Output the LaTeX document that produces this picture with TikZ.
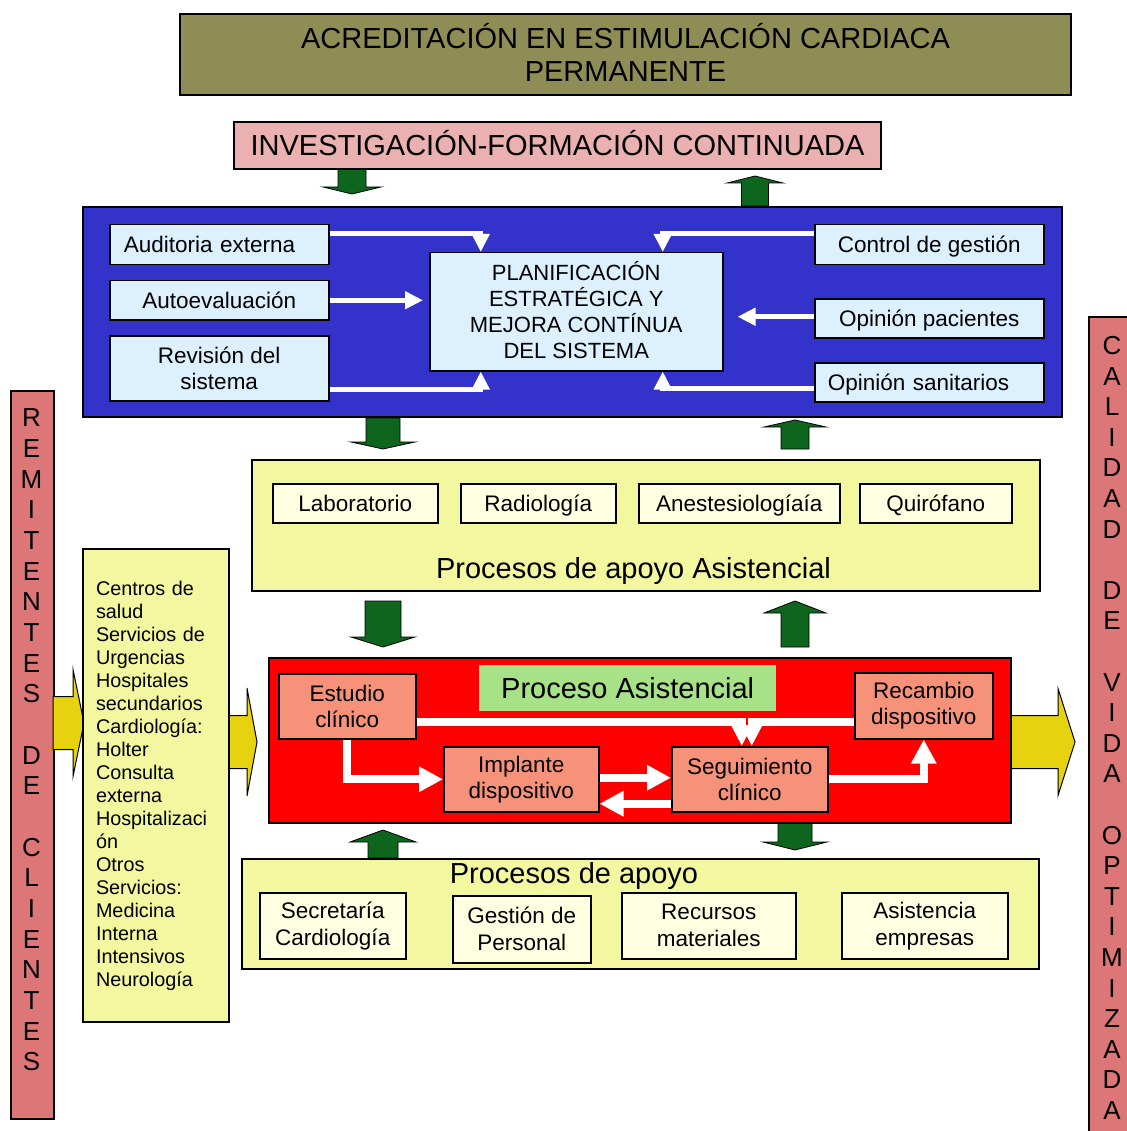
\documentclass[tikz,border=0pt]{standalone}
\usepackage{fontspec}
\setmainfont{Liberation Sans}
\usetikzlibrary{arrows.meta}
\definecolor{olivehead}{RGB}{143,141,86}
\definecolor{invpink}{RGB}{235,176,176}
\definecolor{blueback}{RGB}{51,51,204}
\definecolor{lightblue}{RGB}{220,240,253}
\definecolor{darkgreen}{RGB}{14,102,30}
\definecolor{lightyellow}{RGB}{242,247,160}
\definecolor{cream}{RGB}{255,255,225}
\definecolor{salmon}{RGB}{246,146,122}
\definecolor{labelgreen}{RGB}{168,226,136}
\definecolor{barpink}{RGB}{221,118,118}
\definecolor{mustard}{RGB}{230,210,15}
\newcommand{\fsz}[2]{\fontsize{#1}{#2}\selectfont}
% green block arrows: cx, top, tip, shaft half width, head half width, head length
\newcommand{\gdownarrow}[6]{\filldraw[garrow] (#1-#4,#2) -- (#1+#4,#2) -- (#1+#4,#3-#6) -- (#1+#5,#3-#6) -- (#1,#3) -- (#1-#5,#3-#6) -- (#1-#4,#3-#6) -- cycle;}
% cx, tip, bottom, shaft half width, head half width, head length
\newcommand{\guparrow}[6]{\filldraw[garrow] (#1-#4,#3) -- (#1+#4,#3) -- (#1+#4,#2+#6) -- (#1+#5,#2+#6) -- (#1,#2) -- (#1-#5,#2+#6) -- (#1-#4,#2+#6) -- cycle;}
% mustard arrows: x start, head base x, tip x, cy, shaft half width, head half width
\newcommand{\yrightarrow}[6]{\filldraw[yarrow] (#1,#4-#5) -- (#2,#4-#5) -- (#2,#4-#6) -- (#3,#4) -- (#2,#4+#6) -- (#2,#4+#5) -- (#1,#4+#5) -- cycle;}
\tikzset{
  outerbox/.style={draw=black, line width=2pt, inner sep=0pt, align=center, anchor=north west},
  innerbox/.style={draw=black, line width=1.5pt, inner sep=0pt, align=center, anchor=north west},
  garrow/.style={fill=darkgreen, draw=black, line width=0.8pt},
  yarrow/.style={fill=mustard, draw=black, line width=1pt},
  warrow/.style={draw=white, line width=5pt, -{Triangle[width=17pt,length=18pt]}},
  rarrow/.style={draw=white, line width=8pt, -{Triangle[width=24pt,length=24pt]}},
  rarrowsmall/.style={draw=white, line width=8pt, -{Triangle[width=20pt,length=21pt]}},
  mainfont/.style={font=\fsz{22.5}{26}},
  bigfont/.style={font=\fsz{29}{33}},
  oneline/.style={text height=16.1pt, text depth=0pt},
  bigline/.style={text height=20.8pt, text depth=0pt},
}
\begin{document}
\begin{tikzpicture}[x=1pt,y=-1pt]
\useasboundingbox (0,0) rectangle (1126,1131);
% side bars
\node[outerbox, fill=barpink, minimum width=43pt, minimum height=728pt] (rembar) at (10,390) {};
\node[outerbox, fill=barpink, minimum width=60pt, minimum height=830pt] (calbar) at (1088,316) {};
\node[font=\fsz{26}{30.67}, align=center, inner sep=0pt] (remtext) at (31.5,740) {R\\E\\M\\I\\T\\E\\N\\T\\E\\S\\\mbox{}\\D\\E\\\mbox{}\\C\\L\\I\\E\\N\\T\\E\\S};
\node[font=\fsz{26}{30.6}, align=center, inner sep=0pt] (caltext) at (1112,728) {C\\A\\L\\I\\D\\A\\D\\\mbox{}\\D\\E\\\mbox{}\\V\\I\\D\\A\\\mbox{}\\O\\P\\T\\I\\M\\I\\Z\\A\\D\\A};
% mustard arrows
\yrightarrow{53}{73}{84}{723}{26.5}{53.5}
\yrightarrow{228}{247}{257}{742}{26.5}{54}
\yrightarrow{1010}{1058}{1075}{742}{26.5}{53.5}
% green arrows
\gdownarrow{352}{168}{194}{14}{29}{7}
\guparrow{755}{176}{206}{13.5}{28}{7}
\gdownarrow{383}{418}{449}{17}{32}{7}
\guparrow{795}{420}{449}{14}{31}{7}
\gdownarrow{383}{601}{647}{18}{32}{10}
\guparrow{795}{601}{647}{14}{31}{12}
\guparrow{383}{830}{858}{15}{33}{12}
\gdownarrow{795}{822}{850}{17}{32}{8}
% header
\node[outerbox, fill=olivehead, minimum width=891pt, minimum height=81pt, bigfont, text height=53.8pt, text depth=0pt] (acr) at (179,13) {ACREDITACIÓN EN ESTIMULACIÓN CARDIACA\\PERMANENTE};
\node[outerbox, fill=invpink, minimum width=647pt, minimum height=47pt, bigfont, bigline] (inv) at (233,121) {INVESTIGACIÓN-FORMACIÓN CONTINUADA};
% blue section
\node[outerbox, fill=blueback, minimum width=979pt, minimum height=210pt] (blue) at (82,206) {};
\node[innerbox, fill=lightblue, minimum width=219pt, minimum height=40pt, mainfont, oneline, text width=191pt, inner xsep=14pt, align=left] (aud) at (109,224) {Auditoria externa};
\node[innerbox, fill=lightblue, minimum width=219pt, minimum height=39pt, mainfont, oneline] (aut) at (109,280) {Autoevaluación};
\node[innerbox, fill=lightblue, minimum width=219pt, minimum height=65pt, mainfont] (rev) at (109,335) {Revisión del\\sistema};
\node[innerbox, fill=lightblue, minimum width=293pt, minimum height=118pt, font=\fsz{22}{26}, text height=93.75pt, text depth=0pt] (plan) at (429,252) {PLANIFICACIÓN\\ESTRATÉGICA Y\\MEJORA CONTÍNUA\\DEL SISTEMA};
\node[innerbox, fill=lightblue, minimum width=229pt, minimum height=40pt, mainfont, oneline] (ctl) at (814,224) {Control de gestión};
\node[innerbox, fill=lightblue, minimum width=229pt, minimum height=39pt, mainfont, oneline] (opp) at (814,298) {Opinión pacientes};
\node[innerbox, fill=lightblue, minimum width=229pt, minimum height=39pt, mainfont, oneline, text width=203pt, inner xsep=13pt, align=left] (ops) at (814,362) {Opinión sanitarios};
\draw[warrow] ([yshift=11pt]aud.east) -| ([xshift=-95.5pt]plan.north);
\draw[warrow, shorten >=6pt] (aut.east) -- (aut.east -| plan.west);
\draw[warrow] ([yshift=-21.5pt]rev.east) -| ([xshift=-95.5pt]plan.south);
\draw[warrow] ([yshift=11pt]ctl.west) -| ([xshift=86.5pt]plan.north);
\draw[warrow, shorten >=14pt] ([yshift=1.5pt]opp.west) -- ([yshift=1.5pt]opp.west -| plan.east);
\draw[warrow] ([yshift=-6.5pt]ops.west) -| ([xshift=86.5pt]plan.south);
% procesos de apoyo asistencial
\node[outerbox, fill=lightyellow, minimum width=788pt, minimum height=131pt] (apas) at (251,459) {};
\node[innerbox, fill=cream, minimum width=165pt, minimum height=39pt, mainfont, oneline] (lab) at (272,483) {Laboratorio};
\node[innerbox, fill=cream, minimum width=155pt, minimum height=39pt, mainfont, oneline] (rad) at (460,483) {Radiología};
\node[innerbox, fill=cream, minimum width=201pt, minimum height=39pt, mainfont, oneline] (ane) at (638,483) {Anestesiologíaía};
\node[innerbox, fill=cream, minimum width=152pt, minimum height=39pt, mainfont, oneline] (qui) at (859,483) {Quirófano};
\node[bigfont, bigline, inner sep=0pt] (apastitle) at (633.5,568) {Procesos de apoyo Asistencial};
% clientes list
\node[outerbox, fill=lightyellow, minimum width=146pt, minimum height=473pt, font=\fsz{19.8}{23}, text width=120pt, align=left] (cli) at (82,548) {Centros de\\salud\\Servicios de\\Urgencias\\Hospitales\\secundarios\\Cardiología:\\Holter\\Consulta\\externa\\Hospitalizaci\\ón\\Otros\\Servicios:\\Medicina\\Interna\\Intensivos\\Neurología};
% proceso asistencial
\node[outerbox, fill=red, minimum width=742pt, minimum height=165pt] (red) at (268,657) {};
\node[anchor=north west, fill=labelgreen, minimum width=297pt, minimum height=46pt, inner sep=0pt, bigfont, bigline] (pa) at (479,665) {Proceso Asistencial};
\node[innerbox, fill=salmon, minimum width=137pt, minimum height=65pt, mainfont] (est) at (278,673) {Estudio\\clínico};
\node[innerbox, fill=salmon, minimum width=138pt, minimum height=66pt, mainfont] (rec) at (854,672) {Recambio\\dispositivo};
\node[innerbox, fill=salmon, minimum width=155pt, minimum height=65pt, mainfont] (imp) at (443,746) {Implante\\dispositivo};
\node[innerbox, fill=salmon, minimum width=156pt, minimum height=65pt, mainfont] (seg) at (671,746) {Seguimiento\\clínico};
\draw[rarrowsmall] ([yshift=-15.5pt]est.east) -| ([xshift=-8pt]seg.north);
\draw[rarrowsmall] ([yshift=-16pt]rec.west) -| ([xshift=2pt]seg.north);
\draw[rarrow] (est.south) |- (imp.west);
\draw[rarrow] ([yshift=1.5pt]imp.east) -- ([yshift=1.5pt]seg.west);
\draw[rarrow] ([yshift=-24.5pt]seg.west) -- ([yshift=-24.5pt]imp.east);
\draw[rarrow] (seg.east) -| (rec.south);
% procesos de apoyo
\node[outerbox, fill=lightyellow, minimum width=797pt, minimum height=110pt] (apo) at (241,858) {};
\node[bigfont, bigline, inner sep=0pt] (apotitle) at (574,873) {Procesos de apoyo};
\node[innerbox, fill=cream, minimum width=146pt, minimum height=66pt, font=\fsz{22.5}{27}] (sec) at (259,892) {Secretaría\\Cardiología};
\node[innerbox, fill=cream, minimum width=138pt, minimum height=67pt, font=\fsz{22.5}{27}] (ges) at (452,895) {Gestión de\\Personal};
\node[innerbox, fill=cream, minimum width=174pt, minimum height=66pt, font=\fsz{22.5}{27}] (recm) at (621,892) {Recursos\\materiales};
\node[innerbox, fill=cream, minimum width=166pt, minimum height=66pt, font=\fsz{22.5}{27}] (asi) at (841,892) {Asistencia\\empresas};
\end{tikzpicture}
\end{document}
